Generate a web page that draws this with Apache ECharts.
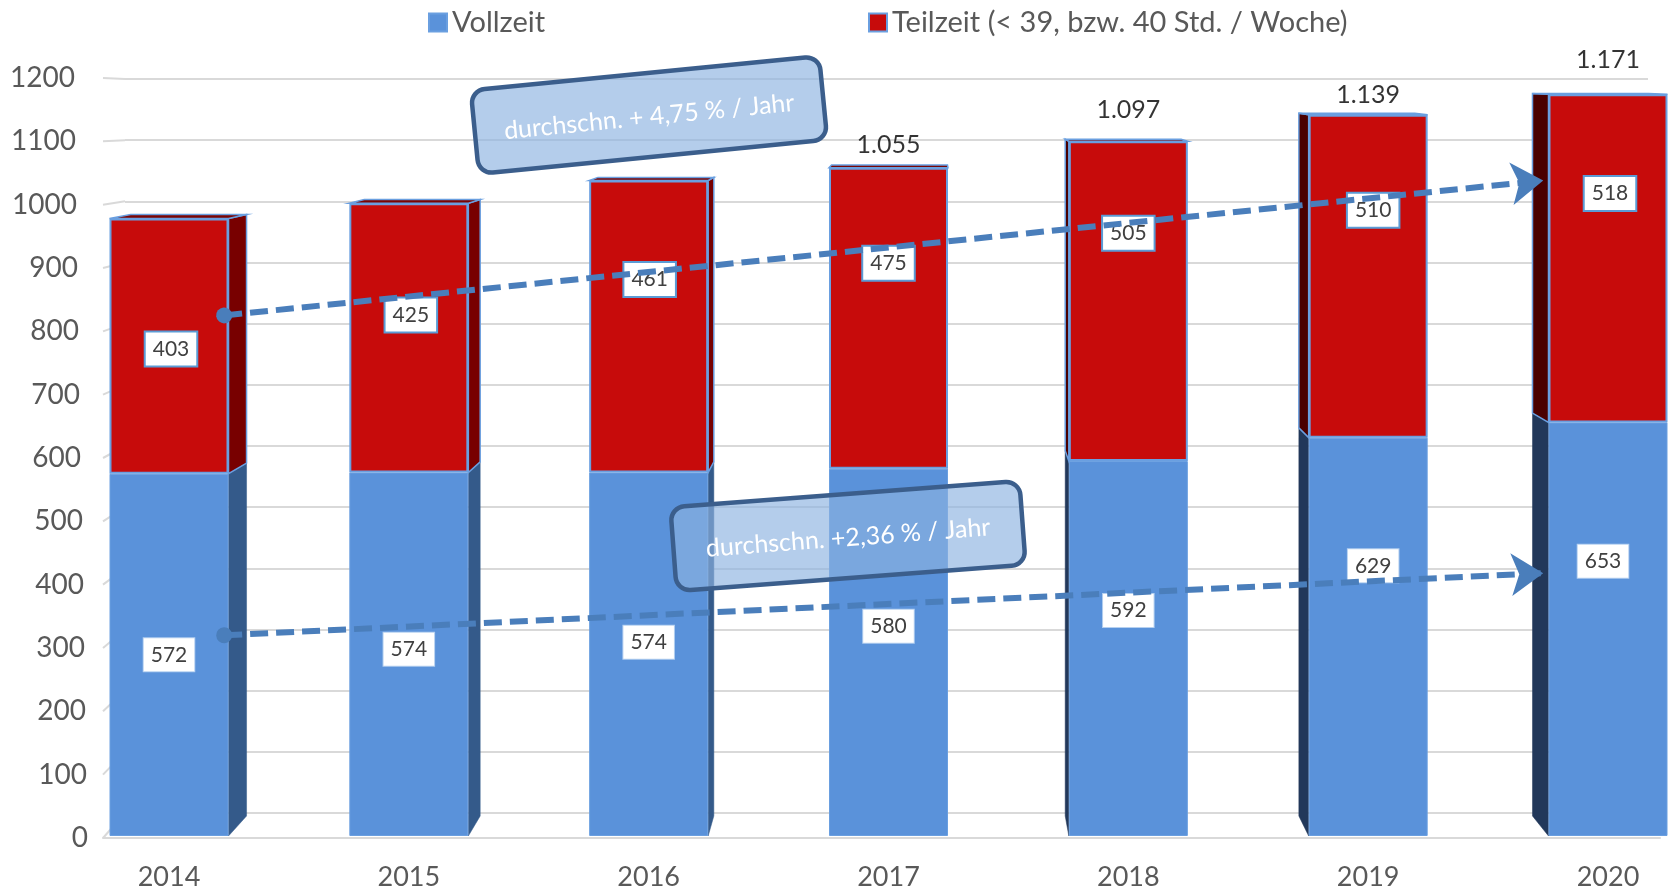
<!DOCTYPE html>
<html>
<head>
<meta charset="utf-8">
<script src="https://cdn.jsdelivr.net/npm/echarts@6/dist/echarts.min.js"></script>
<style>
  html, body { margin: 0; padding: 0; background: #fff; }
  #chart { width: 1670px; height: 893px; }
</style>
</head>
<body>
<div id="chart"></div>
<script>
// Daten
var years = ["2014", "2015", "2016", "2017", "2018", "2019", "2020"];
var vollzeit = [572, 574, 574, 580, 592, 629, 653];
var teilzeit = [403, 425, 461, 475, 505, 510, 518];
var yMin = 0, yMax = 1200, yStep = 100;
// Trendpfeile: [Kategorie-Position, Wert]
var trendTeilzeit = [[0.23, 822], [5.73, 1035]];
var trendVollzeit = [[0.23, 317], [5.73, 415]];
var trendTexts = ["durchschn. + 4,75 % / Jahr", "durchschn. +2,36 % / Jahr"];
var seriesNames = ["Vollzeit", "Teilzeit (< 39, bzw. 40 Std. / Woche)"];

var totals = vollzeit.map(function (v, i) { return v + teilzeit[i]; });
var yTicks = [];
for (var t = yMin; t <= yMax; t += yStep) yTicks.push(t);

// Stil
var FONT = "Lato, 'Open Sans', sans-serif";
var BLUE = "#5A92DA", RED = "#C70B0B", EDGE = "#6A9FE0";
var BAR_W = 119;
var VP = [928, 60], DEPTH = 0.0258;           // Fluchtpunkt fuer die 3D-Seiten
var totalLift = [null, null, null, 24, 33, 21, 36]; // Abstand Summe ueber Balken
var WALL = { top: 79, bottom: 813, left: 125 };     // Rueckwand
// manuell verschobene Datenbeschriftungen (px)
var shiftVoll = [[0, 0], [0, -5], [0, -12], [0, -26], [0, -38], [5, -71], [-5, -68]];
var shiftTeil = [[2, 3], [2, -23], [1, -47], [0, -55], [0, -68], [5, -66], [2, -65]];

function fmtDe(n) {
  if (n < 1000) return String(n);
  return Math.floor(n / 1000) + "." + String(n % 1000).padStart(3, "0");
}
function back(p) {
  return [p[0] + DEPTH * (VP[0] - p[0]), p[1] + DEPTH * (VP[1] - p[1])];
}
function poly(pts, fill, stroke) {
  return {
    type: "polygon",
    shape: { points: pts },
    style: { fill: fill, stroke: stroke || fill, lineWidth: stroke ? 1.5 : 0.5 }
  };
}

var chart = echarts.init(document.getElementById("chart"));

// y-Labels leicht perspektivisch eingerueckt
var rich = {};
yTicks.forEach(function (v) {
  rich["v" + v] = { fontSize: 28, fontFamily: FONT, color: "#595959",
    padding: [0, Math.round(13 * v / yMax), 0, 0] };
});

function labelBox(border, bw) {
  return {
    show: true,
    position: "inside",
    color: "#404040",
    fontSize: 21,
    fontFamily: FONT,
    backgroundColor: "#fff",
    borderColor: border,
    borderWidth: bw,
    padding: [5, 7],
    lineHeight: 23
  };
}

var legendText = { fontSize: 29, color: "#595959", fontFamily: FONT };

var option = {
  backgroundColor: "#fff",
  animation: false,
  legend: [
    { data: [seriesNames[0]], left: 423, top: 3, icon: "rect", itemWidth: 18, itemHeight: 18,
      selectedMode: false, textStyle: legendText },
    { data: [seriesNames[1]], left: 863, top: 3, icon: "rect", itemWidth: 18, itemHeight: 18,
      selectedMode: false, textStyle: legendText }
  ],
  grid: [
    { left: 169, right: 62, top: 76, bottom: 57 },    // Balken
    { left: WALL.left, right: 22, top: WALL.top, bottom: 893 - WALL.bottom }, // Rueckwand-Gitter
    { left: 103, right: 10, top: 78, bottom: 55 }     // Achsenbeschriftung, Boden
  ],
  xAxis: [
    {
      type: "category", gridIndex: 0, data: years, boundaryGap: false,
      axisLine: { show: false }, axisTick: { show: false }, splitLine: { show: false },
      axisLabel: { fontSize: 27, color: "#595959", fontFamily: FONT, margin: 28 }
    },
    { type: "value", gridIndex: 0, min: 0, max: 6, show: false },
    { type: "value", gridIndex: 1, show: false },
    {
      type: "value", gridIndex: 2, min: 0, max: 1,
      axisLine: { show: true, lineStyle: { color: "#D9D9D9", width: 2 } },
      axisTick: { show: false }, axisLabel: { show: false }, splitLine: { show: false }
    }
  ],
  yAxis: [
    { type: "value", gridIndex: 0, min: yMin, max: yMax, interval: yStep, show: false },
    {
      type: "value", gridIndex: 1, min: yMin, max: yMax, interval: yStep,
      axisLine: { show: false }, axisTick: { show: false }, axisLabel: { show: false },
      splitLine: { show: true, lineStyle: { color: "#D9D9D9", width: 2 } }
    },
    {
      type: "value", gridIndex: 2, min: yMin, max: yMax, interval: yStep,
      axisLine: { show: false }, axisTick: { show: false }, splitLine: { show: false },
      axisLabel: {
        margin: 15,
        formatter: function (val) { return "{v" + val + "|" + val + "}"; },
        rich: rich
      }
    }
  ],
  series: [
    {
      // linke Seitenwand: kurze schraege Gitterstuecke
      type: "custom", xAxisIndex: 3, yAxisIndex: 2, silent: true, z: 0,
      data: yTicks.map(function (v) { return [0, v]; }),
      renderItem: function (params, api) {
        var v = api.value(1);
        var pf = api.coord([0, v]);
        var yb = WALL.bottom - (WALL.bottom - WALL.top) * v / yMax;
        return { type: "line", shape: { x1: pf[0], y1: pf[1], x2: WALL.left, y2: yb },
          style: { stroke: "#D9D9D9", lineWidth: 2 } };
      }
    },
    {
      // Seiten- und Deckflaechen (Pseudo-3D)
      type: "custom",
      xAxisIndex: 0, yAxisIndex: 0,
      silent: true, z: 1,
      data: years.map(function (y, i) { return [i, vollzeit[i], totals[i]]; }),
      encode: { x: 0, y: [1, 2] },
      renderItem: function (params, api) {
        var i = api.value(0);
        var p0 = api.coord([i, 0]);
        var p1 = api.coord([i, api.value(1)]);
        var p2 = api.coord([i, api.value(2)]);
        var hw = BAR_W / 2, xl = p0[0] - hw, xr = p0[0] + hw;
        var kids = [];
        var side = null, sb, sr;
        if (xr < VP[0]) { side = xr; sb = "#345A8A"; sr = "#780000"; }
        else if (xl > VP[0]) { side = xl; sb = "#22385A"; sr = "#4A0000"; }
        if (side !== null) {
          kids.push(poly([[side, p0[1]], [side, p1[1]], back([side, p1[1]]), back([side, p0[1]])], sb));
          kids.push(poly([[side, p1[1]], [side, p2[1]], back([side, p2[1]]), back([side, p1[1]])], sr, EDGE));
        }
        kids.push(poly([[xl, p2[1]], [xr, p2[1]], back([xr, p2[1]]), back([xl, p2[1]])], "#7A0505", EDGE));
        return { type: "group", children: kids };
      }
    },
    {
      name: seriesNames[0], type: "bar", stack: "gesamt",
      xAxisIndex: 0, yAxisIndex: 0, barWidth: BAR_W, z: 2,
      itemStyle: { color: BLUE, borderColor: EDGE, borderWidth: 1 },
      label: labelBox("#B5D0F0", 1),
      data: vollzeit.map(function (v, i) { return { value: v, label: { offset: shiftVoll[i] } }; })
    },
    {
      name: seriesNames[1], type: "bar", stack: "gesamt",
      xAxisIndex: 0, yAxisIndex: 0, barWidth: BAR_W, z: 2,
      itemStyle: { color: RED, borderColor: EDGE, borderWidth: 2 },
      label: labelBox("#5B9BD5", 2),
      data: teilzeit.map(function (v, i) { return { value: v, label: { offset: shiftTeil[i] } }; })
    },
    {
      // Summen ueber den Balken
      type: "scatter", xAxisIndex: 0, yAxisIndex: 0, z: 3,
      symbolSize: 0, silent: true,
      data: totals.map(function (t, i) {
        return {
          value: [i, t],
          label: {
            show: totalLift[i] !== null,
            position: "top",
            distance: (totalLift[i] || 0) - 14,
            formatter: fmtDe(t),
            fontSize: 25, color: "#000", fontFamily: FONT
          }
        };
      })
    },
    {
      // Trendpfeile
      type: "line", xAxisIndex: 1, yAxisIndex: 0, z: 5, silent: true,
      symbol: "none", lineStyle: { opacity: 0 },
      data: trendTeilzeit,
      markLine: {
        silent: true,
        label: { show: false },
        lineStyle: { color: "#4A7EBB", width: 6, type: [18, 8], opacity: 1 },
        data: [
          [{ coord: trendTeilzeit[0], symbol: "circle", symbolSize: 16 },
           { coord: trendTeilzeit[1], symbol: "arrow", symbolSize: 32 }],
          [{ coord: trendVollzeit[0], symbol: "circle", symbolSize: 16 },
           { coord: trendVollzeit[1], symbol: "arrow", symbolSize: 32 }]
        ]
      }
    }
  ],
  graphic: [
    {
      type: "group", x: 649, y: 115, rotation: 5.6 * Math.PI / 180,
      children: [
        { type: "rect", z: 100, shape: { x: -175, y: -42, width: 350, height: 84, r: 14 },
          style: { fill: "rgba(140,178,225,0.65)", stroke: "#3B5E8C", lineWidth: 4.5 } },
        { type: "text", z: 101, style: { text: trendTexts[0], x: 0, y: 2, align: "center",
          verticalAlign: "middle", fill: "#fff", fontSize: 25, fontFamily: FONT } }
      ]
    },
    {
      type: "group", x: 848, y: 536, rotation: 4.3 * Math.PI / 180,
      children: [
        { type: "rect", z: 100, shape: { x: -175, y: -42, width: 350, height: 84, r: 14 },
          style: { fill: "rgba(140,178,225,0.65)", stroke: "#3B5E8C", lineWidth: 4.5 } },
        { type: "text", z: 101, style: { text: trendTexts[1], x: 0, y: 2, align: "center",
          verticalAlign: "middle", fill: "#fff", fontSize: 25, fontFamily: FONT } }
      ]
    }
  ]
};

chart.setOption(option);
</script>
</body>
</html>
